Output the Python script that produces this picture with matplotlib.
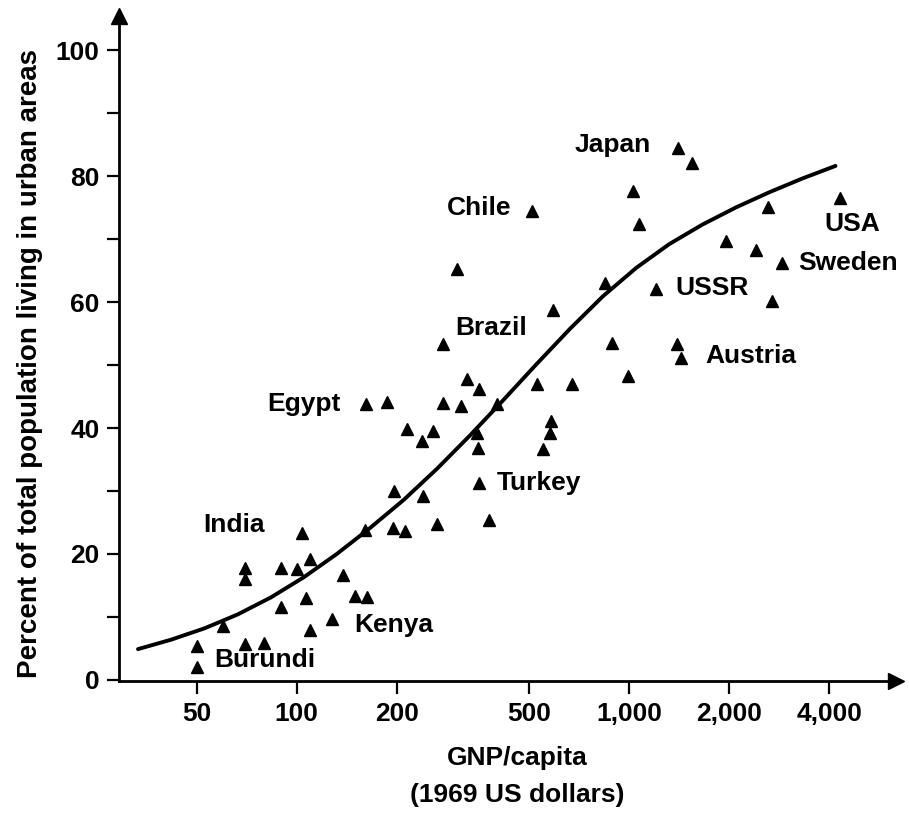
import matplotlib
matplotlib.use("Agg")
import matplotlib.pyplot as plt

plt.rcParams['font.family'] = ['Liberation Sans', 'DejaVu Sans']
plt.rcParams['font.weight'] = 'bold'

# ---- data ----
gnp = [50, 50, 60, 70, 80, 70, 70, 104, 90, 100, 110, 90, 107, 110, 128, 138,
       150, 163, 161, 195, 212, 196, 265, 240, 379, 354, 215, 238, 257, 349,
       351, 162, 187, 276, 312, 326, 354, 401, 276, 304, 511, 591, 529, 674,
       583, 579, 551, 847, 889, 993, 1028, 1072, 1206, 1395, 1433, 1405, 1547,
       2619, 4313, 1957, 2410, 2887, 2693]
urban = [5.4, 2.1, 8.6, 5.7, 5.9, 17.8, 16.0, 23.3, 17.8, 17.6, 19.2, 11.6,
         13.0, 7.9, 9.7, 16.7, 13.3, 13.2, 23.8, 24.1, 23.7, 30.0, 24.8, 29.2,
         25.4, 31.3, 39.8, 37.9, 39.5, 39.2, 36.8, 43.8, 44.1, 44.0, 43.5, 47.8,
         46.2, 43.8, 53.3, 65.2, 74.4, 58.7, 47.0, 47.0, 41.1, 39.2, 36.7, 63.0,
         53.5, 48.3, 77.6, 72.4, 62.1, 53.3, 51.1, 84.4, 82.1, 75.1, 76.5, 69.7,
         68.3, 66.2, 60.2]

# fitted curve
curve_x = [33.3, 41.9, 52.8, 66.4, 83.6, 105, 132, 166, 210, 264, 332, 418,
           526, 663, 834, 1050, 1322, 1664, 2095, 2637, 3320, 4180]
curve_y = [4.9, 6.4, 8.2, 10.4, 13.1, 16.3, 20.0, 24.1, 28.6, 33.5, 38.8, 44.4,
           50.1, 55.7, 60.9, 65.4, 69.2, 72.3, 75.0, 77.4, 79.6, 81.6]

countries = ['Japan', 'Chile', 'USA', 'Sweden', 'USSR', 'Austria', 'Brazil',
             'Egypt', 'Turkey', 'India', 'Kenya', 'Burundi']
# label anchor positions (left edge, vertical centre) in data coordinates
label_x = [688, 283, 3862, 3224, 1375, 1693, 300, 81.5, 401, 52.3, 149, 56.4]
label_y = [84.9, 74.9, 72.4, 66.2, 62.2, 51.4, 55.9, 43.8, 31.3, 24.6, 8.7, 3.2]

xticks = [50, 100, 200, 500, 1000, 2000, 4000]
xticklabels = ['50', '100', '200', '500', '1,000', '2,000', '4,000']
yticks = [0, 20, 40, 60, 80, 100]
yminor = [10, 30, 50, 70, 90]

# ---- figure ----
W, H = 909, 818
fig = plt.figure(figsize=(W / 100, H / 100), dpi=100)
left, right, bottom, top = 119, 896, 681, 16
ax = fig.add_axes([left / W, (H - bottom) / H, (right - left) / W, (bottom - top) / H])

ax.set_xscale('log')
ax.set_xlim(29.2, 6357)
ax.set_ylim(-0.16, 105.4)

ax.plot(curve_x, curve_y, color='black', lw=2.8, solid_capstyle='round',
        solid_joinstyle='round', zorder=2)
ax.plot(gnp, urban, linestyle='none', marker='^', color='black', ms=8.5, zorder=3)

for name, lx, ly in zip(countries, label_x, label_y):
    ax.text(lx, ly, name, ha='left', va='center', fontsize=19, fontweight='bold')

for s in ['top', 'right']:
    ax.spines[s].set_visible(False)
for s in ['left', 'bottom']:
    ax.spines[s].set_linewidth(2.0)

ax.plot(1, 0, marker='>', color='black', ms=11, transform=ax.transAxes, clip_on=False)
ax.plot(0, 1, marker='^', color='black', ms=11, transform=ax.transAxes, clip_on=False)

ax.set_xticks(xticks)
ax.set_xticklabels(xticklabels)
ax.xaxis.set_minor_locator(matplotlib.ticker.NullLocator())
ax.set_yticks(yticks)
ax.set_yticks(yminor, minor=True)
ax.tick_params(axis='both', which='both', direction='out', length=9, width=1.6,
               labelsize=19)
ax.tick_params(axis='x', pad=6)
ax.tick_params(axis='y', pad=5)
for lab in ax.get_xticklabels() + ax.get_yticklabels():
    lab.set_fontweight('bold')

fig.text(517 / W, 1 - 758 / H, 'GNP/capita', ha='center', va='center',
         fontsize=19, fontweight='bold')
fig.text(517 / W, 1 - 795 / H, '(1969 US dollars)', ha='center', va='center',
         fontsize=19, fontweight='bold')
fig.text(30 / W, 1 - 363 / H, 'Percent of total population living in urban areas',
         ha='center', va='center', rotation=90, fontsize=20, fontweight='bold')

fig.savefig('out.png', dpi=100)
